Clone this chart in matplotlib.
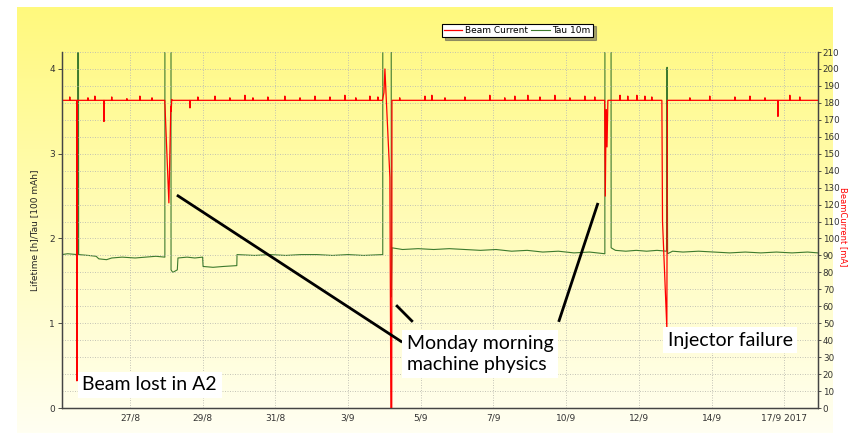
import matplotlib.pyplot as plt
import numpy as np
import pandas as pd

# Beam current [mA], main shape of the trace
bc_times = ["08-24 19:40", "08-25 07:00", "08-25 07:10", "08-25 07:25",
            "08-26 03:50", "08-26 04:00", "08-26 04:10",
            "08-28 02:50", "08-28 06:00", "08-28 07:30", "08-28 07:50", "08-28 08:10", "08-28 08:40",
            "09-04 02:30", "09-04 03:40", "09-04 04:25", "09-04 05:00", "09-04 08:15",
            "09-04 09:00", "09-04 09:40", "09-04 09:50",
            "09-11 05:40", "09-11 06:10", "09-11 06:50", "09-11 07:30", "09-11 08:10",
            "09-13 01:45", "09-13 02:15", "09-13 05:35", "09-13 06:00",
            "09-16 19:00", "09-16 19:10", "09-16 19:20", "09-18 02:00"]
bc_vals = [181.5, 181.5, 16, 181.5,
           181.5, 169, 181.5,
           181.5, 121, 178, 175, 182, 181.5,
           181.5, 186, 200, 190, 136,
           0, 0, 181.5,
           181.5, 125, 176, 154, 181.5,
           181.5, 110, 47, 181.5,
           181.5, 172, 181.5, 181.5]

# short blips on the 181.5 mA plateau
bc_spike_times = ["08-25 01:40", "08-25 15:40", "08-25 21:00", "08-26 10:00", "08-26 21:40",
                  "08-27 07:40", "08-27 17:00", "08-28 22:15", "08-29 04:20", "08-29 17:30",
                  "08-30 05:00", "08-30 16:35", "08-30 22:45", "08-31 10:15", "08-31 23:20",
                  "09-01 11:00", "09-01 22:30", "09-02 10:05", "09-02 21:35", "09-03 06:00",
                  "09-03 16:50", "09-03 23:00", "09-04 15:50", "09-05 11:15", "09-05 16:35",
                  "09-06 02:40", "09-06 18:00", "09-07 13:15", "09-08 00:45", "09-08 08:30",
                  "09-08 18:30", "09-09 03:50", "09-09 15:20", "09-10 02:55", "09-10 14:25",
                  "09-10 22:05", "09-11 17:30", "09-11 23:30", "09-12 06:30", "09-12 12:40",
                  "09-12 18:00", "09-13 23:20", "09-14 14:40", "09-15 10:00", "09-15 21:35",
                  "09-16 09:10", "09-17 04:20", "09-17 12:00"]
bc_spike_vals = [183.5, 183, 184, 183.5, 182.5,
                 184, 183, 177, 183.5, 184,
                 183, 184.5, 183, 183.5, 184,
                 183, 184, 183.5, 184.5, 183,
                 184, 183.5, 183, 184, 184.5,
                 183, 183.5, 184.5, 183, 184,
                 184.5, 183.5, 184.5, 183, 184,
                 183.5, 184.5, 184, 184.5, 184,
                 183.5, 183, 184, 183.5, 184,
                 183, 184.5, 183.5]

# Tau 10m lifetime [100 mAh]
tau_times = ["08-24 19:40", "08-25 00:00", "08-25 07:40", "08-25 08:00", "08-25 08:30",
             "08-25 16:00", "08-25 22:00", "08-26 00:00", "08-26 06:00", "08-26 10:00",
             "08-26 18:00", "08-27 04:00", "08-27 12:00", "08-27 20:00", "08-28 02:55",
             "08-28 03:00", "08-28 07:35", "08-28 07:40", "08-28 09:00", "08-28 12:30",
             "08-28 13:00", "08-28 20:00", "08-29 02:00", "08-29 08:00", "08-29 08:20",
             "08-29 16:00", "08-30 00:00", "08-30 10:20", "08-30 10:30", "08-31 00:00",
             "08-31 12:00", "09-01 00:00", "09-01 12:00", "09-02 00:00", "09-02 12:00",
             "09-03 00:00", "09-03 12:00", "09-04 02:45", "09-04 02:50", "09-04 09:10",
             "09-04 09:20", "09-04 09:50", "09-04 18:00", "09-05 06:00", "09-05 18:00",
             "09-06 06:00", "09-06 18:00", "09-07 06:00", "09-07 18:00", "09-08 06:00",
             "09-08 18:00", "09-09 06:00", "09-09 18:00", "09-10 06:00", "09-10 18:00",
             "09-11 05:50", "09-11 06:00", "09-11 10:30", "09-11 10:40", "09-11 14:00",
             "09-11 22:00", "09-12 06:00", "09-12 14:00", "09-12 22:00", "09-13 05:20",
             "09-13 05:45", "09-13 06:10", "09-13 10:00", "09-13 18:00", "09-14 06:00",
             "09-14 18:00", "09-15 06:00", "09-15 18:00", "09-16 06:00", "09-16 18:00",
             "09-17 06:00", "09-17 18:00", "09-18 02:00"]
tau_vals = [1.81, 1.82, 1.81, 10, 1.81,
            1.80, 1.79, 1.76, 1.75, 1.77,
            1.78, 1.77, 1.78, 1.79, 1.78,
            10, 10, 1.63, 1.60, 1.63,
            1.77, 1.78, 1.77, 1.78, 1.67,
            1.66, 1.67, 1.68, 1.81, 1.80,
            1.81, 1.80, 1.81, 1.81, 1.80,
            1.81, 1.80, 1.81, 10, 10,
            1.31, 1.89, 1.87, 1.88, 1.87,
            1.88, 1.87, 1.86, 1.87, 1.85,
            1.86, 1.84, 1.85, 1.83, 1.84,
            1.82, 10, 10, 1.89, 1.86,
            1.85, 1.86, 1.85, 1.86, 1.85,
            4.02, 1.82, 1.85, 1.84, 1.85,
            1.84, 1.83, 1.84, 1.83, 1.84,
            1.83, 1.84, 1.83]

tick_times = ["08-27 00:00", "08-29 08:00", "08-31 16:00", "09-03 00:00", "09-05 08:00",
              "09-07 16:00", "09-10 00:00", "09-12 08:00", "09-14 16:00", "09-17 00:00"]
tick_labels = ["27/8", "29/8", "31/8", "3/9", "5/9", "7/9", "10/9", "12/9", "14/9", "17/9 2017"]


def to_dt(lst):
    return list(pd.to_datetime(["2017-" + s for s in lst]))


# build the beam current trace with the spikes added on the plateau
bc_t = to_dt(bc_times)
bc_v = list(bc_vals)
half = pd.Timedelta(minutes=12)
for tc, val in zip(to_dt(bc_spike_times), bc_spike_vals):
    bc_t += [tc - half, tc, tc + half]
    bc_v += [181.5, val, 181.5]
order = np.argsort(np.array(bc_t, dtype="datetime64[ns]"))
bc_t = [bc_t[i] for i in order]
bc_v = [bc_v[i] for i in order]

tau_t = to_dt(tau_times)

fig = plt.figure(figsize=(8.48, 4.33), dpi=100)

# yellow gradient panel behind everything
bg = fig.add_axes([0.02, 0.0, 0.962, 0.984], zorder=-10)
grad = np.linspace(0, 1, 256)[:, None]
top = np.array([255, 249, 125]) / 255.0
bot = np.array([255, 255, 242]) / 255.0
img = top[None, None, :] * (1 - grad[:, :, None]) + bot[None, None, :] * grad[:, :, None]
bg.imshow(img, aspect="auto", extent=[0, 1, 0, 1])
bg.axis("off")

ax = fig.add_axes([0.0731, 0.0577, 0.8915, 0.8222])
ax.patch.set_alpha(0)
ax2 = ax.twinx()

ln_tau, = ax.plot(tau_t, tau_vals, color="#3d7a2e", lw=0.8, label="Tau 10m")
ln_bc, = ax2.plot(bc_t, bc_v, color="#ff0000", lw=0.9, label="Beam Current")

xmin = pd.Timestamp("2017-08-24 19:40")
xmax = pd.Timestamp("2017-09-18 02:00")
ax.set_xlim(xmin, xmax)
ax.set_ylim(0, 4.2)
ax2.set_ylim(0, 210)

ax.set_yticks([0, 1, 2, 3, 4])
ax.set_yticks(np.arange(0, 4.21, 0.2), minor=True)
ax2.set_yticks(np.arange(0, 211, 10))
ax.set_xticks(to_dt(tick_times))
ax.set_xticklabels(tick_labels)

tick_kw = dict(labelsize=6.5, colors="#333333", length=3, width=0.6, pad=2)
ax.tick_params(axis="both", **tick_kw)
ax.tick_params(axis="y", which="minor", length=0)
ax.tick_params(axis="x", length=0, pad=4)
ax2.tick_params(axis="y", labelsize=6.3, colors="#333333", length=2.5, width=0.6, pad=1)

grid_kw = dict(color="#bdbdb2", linestyle=(0, (1.2, 1.8)), linewidth=0.6)
ax2.yaxis.grid(True, **grid_kw)
ax.xaxis.grid(True, **grid_kw)

for a in (ax, ax2):
    a.spines["top"].set_visible(False)
    for s in ("left", "right", "bottom"):
        a.spines[s].set_color("#444444")
        a.spines[s].set_linewidth(0.9)

ax.set_ylabel("Lifetime [h]/Tau [100 mAh]", fontsize=6.5, color="#222222", labelpad=7)
fig.text(843.5 / 848, 1 - 227 / 433, "BeamCurrent [mA]", fontsize=6, color="#ff0000",
         rotation=-90, ha="center", va="center")

leg = fig.legend(handles=[ln_bc, ln_tau], loc="center", bbox_to_anchor=(0.61, 0.93),
                 ncol=2, fontsize=6.5, frameon=True, fancybox=False, shadow=True,
                 handlelength=2.0, handletextpad=0.3, columnspacing=0.4,
                 borderpad=0.25, borderaxespad=0)
leg.get_frame().set_edgecolor("black")
leg.get_frame().set_linewidth(0.8)

# annotation lines and boxes
line_kw = dict(color="black", lw=2.0, transform=ax.transAxes, solid_capstyle="butt", zorder=5)
ax2.plot([0.152, 0.450], [0.598, 0.185], **line_kw)
ax2.plot([0.442, 0.464], [0.289, 0.242], **line_kw)
ax2.plot([0.709, 0.657], [0.576, 0.242], **line_kw)

box = dict(facecolor="white", edgecolor="none", pad=3.5)
txt_kw = dict(fontsize=14, family="Lato", color="black", transform=ax.transAxes,
              ha="left", va="center", bbox=box, zorder=6)
ax2.text(0.027, 0.065, "Beam lost in A2", **txt_kw)
ax2.text(0.456, 0.152, "Monday morning\nmachine physics", linespacing=1.25, **txt_kw)
ax2.text(0.801, 0.191, "Injector failure", **txt_kw)

fig.savefig("out.png", dpi=100)
